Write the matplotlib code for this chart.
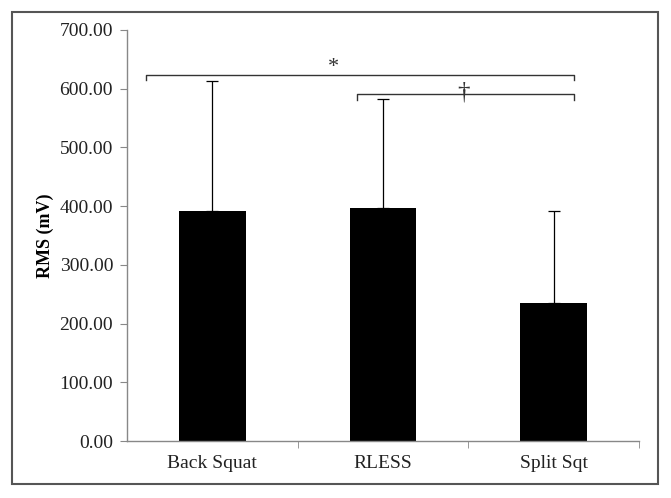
import numpy as np
import matplotlib
matplotlib.use('Agg')
from matplotlib import pyplot as plt
from matplotlib.patches import Rectangle

# Data
categories = ['Back Squat', 'RLESS', 'Split Sqt']
rms_mean = [392.0, 397.0, 235.0]
rms_sd = [221.0, 186.0, 157.0]
yticks = [0, 100, 200, 300, 400, 500, 600, 700]

# Significance brackets: (x start, x end, height, symbol)
brackets = [(-0.39, 2.12, 624.0, '*'), (0.85, 2.12, 591.0, u'\u2020')]
bracket_label_x = [0.71, 1.47]

plt.rcParams['font.family'] = ['Liberation Serif', 'DejaVu Serif']

fig = plt.figure(figsize=(6.71, 4.98), dpi=100)
ax = fig.add_axes([127 / 671, 1 - 441 / 498, 512 / 671, 411 / 498])

x = np.arange(len(categories))
ax.bar(x, rms_mean, width=0.39, color='black', zorder=2)
ax.errorbar(x, rms_mean, yerr=[np.zeros(len(x)), rms_sd], fmt='none', ecolor='black',
            elinewidth=0.9, capsize=4, capthick=0.9, zorder=3)

# Brackets
for (x0, x1, h, sym), lx in zip(brackets, bracket_label_x):
    ax.plot([x0, x0, x1, x1], [h - 10, h, h, h - 10], color='#333333', lw=1.0, zorder=4)
    if sym == '*':
        ax.text(lx, h + 12, sym, ha='center', va='center', fontsize=16, color='#333333')
    else:
        ax.text(lx, h + 3, sym, ha='center', va='center', fontsize=18, color='#333333')

# Axes
ax.set_xlim(-0.5, 2.5)
ax.set_ylim(0, 700)
ax.set_yticks(yticks)
ax.set_yticklabels(['%.2f' % v for v in yticks], fontsize=14, color='#222222')
ax.set_xticks(x)
ax.set_xticklabels(categories, fontsize=14, color='#222222')
ax.set_xticks([0.5, 1.5, 2.5], minor=True)
ax.tick_params(axis='x', which='major', length=0, pad=10)
ax.tick_params(axis='x', which='minor', length=5, color='#888888', direction='out')
ax.tick_params(axis='y', length=5, color='#888888', direction='out', pad=5)
ax.set_ylabel('RMS (mV)', fontsize=13, fontweight='bold', labelpad=4)

for side in ['top', 'right']:
    ax.spines[side].set_visible(False)
for side in ['left', 'bottom']:
    ax.spines[side].set_color('#888888')
    ax.spines[side].set_linewidth(1.0)

# Outer border
fig.patches.append(Rectangle((12 / 671, 1 - 484 / 498), 646 / 671, 472 / 498, transform=fig.transFigure,
                             fill=False, edgecolor='#555555', linewidth=1.5))

plt.savefig('out.png', dpi=100)
plt.close(fig)
